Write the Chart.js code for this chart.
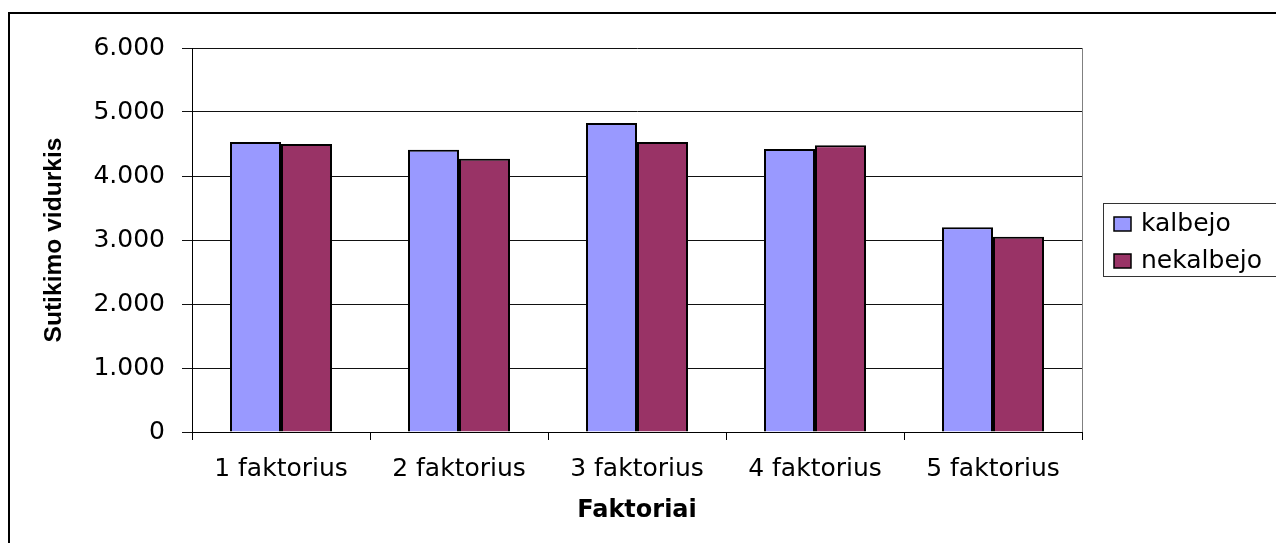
<!DOCTYPE html>
<html>
<head>
<meta charset="utf-8">
<script src="https://cdn.jsdelivr.net/npm/chart.js@4.4.1/dist/chart.umd.min.js"></script>
<style>
  html, body { margin: 0; padding: 0; background: #fff; }
  #wrap { position: relative; width: 1276px; height: 543px; }
</style>
</head>
<body>
<div id="wrap"><canvas id="c"></canvas></div>
<script>
const categories = ['1 faktorius', '2 faktorius', '3 faktorius', '4 faktorius', '5 faktorius'];
const seriesNames = ['kalbejo', 'nekalbejo'];
const kalbejo = [4.53, 4.41, 4.83, 4.42, 3.20];
const nekalbejo = [4.50, 4.27, 4.53, 4.48, 3.05];
const yTickLabels = ['0', '1.000', '2.000', '3.000', '4.000', '5.000', '6.000'];
const yTitle = 'Sutikimo vidurkis';
const xTitle = 'Faktoriai';

const colors = ['#9999FF', '#993366'];
const tickFont = { family: 'DejaVu Sans', size: 25 };

const decor = {
  id: 'decor',
  beforeDraw(chart) {
    const ctx = chart.ctx;
    ctx.save();
    ctx.fillStyle = '#fff';
    ctx.fillRect(0, 0, chart.width, chart.height);
    ctx.strokeStyle = '#000';
    ctx.lineWidth = 2;
    ctx.strokeRect(9, 13, chart.width + 20, chart.height + 20);
    ctx.restore();
  },
  beforeDatasetsDraw(chart) {
    const ctx = chart.ctx, a = chart.chartArea;
    ctx.save();
    ctx.strokeStyle = '#808080';
    ctx.lineWidth = 1;
    ctx.beginPath();
    ctx.moveTo(a.right + 0.5, a.top);
    ctx.lineTo(a.right + 0.5, a.bottom);
    ctx.stroke();
    ctx.restore();
  },
  afterDraw(chart) {
    const ctx = chart.ctx;
    ctx.save();
    const bx = 1103, by = 203, bw = 200, bh = 73;
    ctx.strokeStyle = '#333';
    ctx.lineWidth = 1;
    ctx.strokeRect(bx + 0.5, by + 0.5, bw, bh);
    ctx.font = '25px "DejaVu Sans"';
    ctx.textBaseline = 'middle';
    const rows = [224, 261];
    chart.data.datasets.forEach((ds, i) => {
      const cy = rows[i];
      ctx.fillStyle = ds.backgroundColor;
      ctx.fillRect(1114, cy - 7, 17, 14);
      ctx.strokeStyle = '#000';
      ctx.lineWidth = 1.5;
      ctx.strokeRect(1114, cy - 7, 17, 14);
      ctx.fillStyle = '#000';
      ctx.fillText(ds.label, 1141, cy);
    });
    ctx.restore();
  }
};

new Chart(document.getElementById('c'), {
  type: 'bar',
  data: {
    labels: categories,
    datasets: [
      { label: seriesNames[0], data: kalbejo, backgroundColor: colors[0], borderColor: '#000', borderWidth: 2 },
      { label: seriesNames[1], data: nekalbejo, backgroundColor: colors[1], borderColor: '#000', borderWidth: 2 }
    ]
  },
  options: {
    responsive: true,
    maintainAspectRatio: false,
    animation: false,
    events: [],
    layout: { padding: { top: 48, right: 194, bottom: 0, left: 0 } },
    datasets: { bar: { categoryPercentage: 0.573, barPercentage: 1.0 } },
    plugins: { legend: { display: false }, tooltip: { enabled: false } },
    scales: {
      x: {
        offset: true,
        grid: { offset: true, drawOnChartArea: false, drawTicks: true, tickLength: 8, color: '#000', lineWidth: 1 },
        border: { color: '#000', width: 1 },
        ticks: { font: tickFont, color: '#000', padding: 14, maxRotation: 0, autoSkip: false },
        title: { display: true, text: xTitle, color: '#000', font: { family: 'DejaVu Sans', size: 24, weight: 'bold' }, padding: { top: 0, bottom: 18 } },
        afterFit(s) { s.height = 111; }
      },
      y: {
        min: 0, max: 6,
        ticks: { stepSize: 1, font: tickFont, color: '#000', padding: 17,
          callback: (v, i) => yTickLabels[i] },
        grid: { color: '#111', lineWidth: 1, tickLength: 10, drawTicks: true },
        border: { color: '#000', width: 1 },
        title: { display: true, text: yTitle, color: '#000', font: { family: 'Liberation Sans', size: 24.6, weight: 'bold' }, padding: { top: 39, bottom: 0 } },
        afterFit(s) { s.width = 192; }
      }
    }
  },
  plugins: [decor]
});
</script>
</body>
</html>
